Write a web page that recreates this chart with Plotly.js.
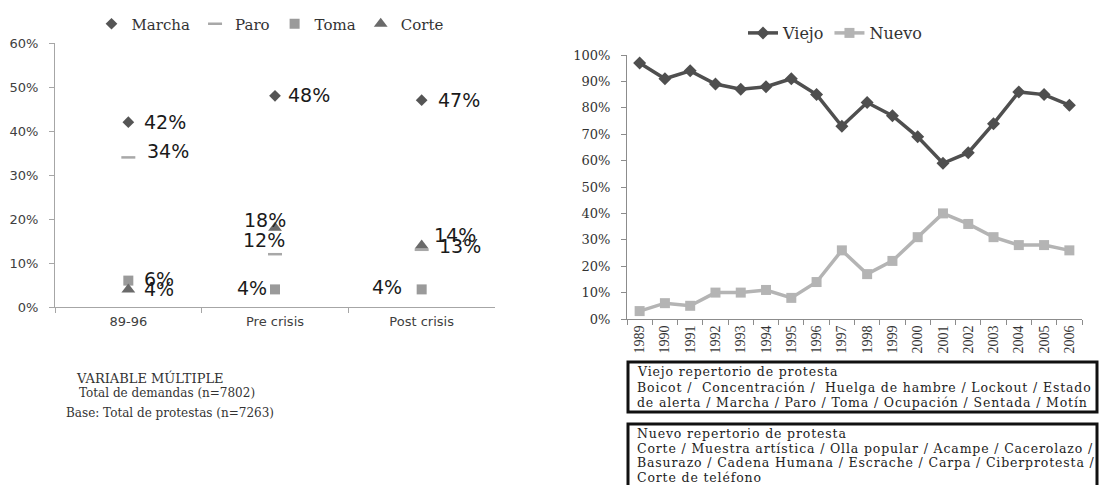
<!DOCTYPE html>
<html>
<head>
<meta charset="utf-8">
<script src="https://cdn.plot.ly/plotly-3.0.1.min.js"></script>
<style>
  html, body { margin: 0; padding: 0; background: #ffffff; }
  #chart { width: 1101px; height: 485px; }
</style>
</head>
<body>
<div id="chart"></div>
<script>
// ---------- Data: left chart (percent) ----------
const periods = ['89-96', 'Pre crisis', 'Post crisis'];
const marcha = [42, 48, 47];
const paro   = [34, 12, 13];
const toma   = [6, 4, 4];
const corte  = [4, 18, 14];
const leftSeriesNames = ['Marcha', 'Paro', 'Toma', 'Corte'];

// ---------- Data: right chart (percent) ----------
const years = ['1989','1990','1991','1992','1993','1994','1995','1996','1997',
               '1998','1999','2000','2001','2002','2003','2004','2005','2006'];
const viejo = [97, 91, 94, 89, 87, 88, 91, 85, 73, 82, 77, 69, 59, 63, 74, 86, 85, 81];
const nuevo = [3, 6, 5, 10, 10, 11, 8, 14, 26, 17, 22, 31, 40, 36, 31, 28, 28, 26];
const rightSeriesNames = ['Viejo', 'Nuevo'];

// ---------- Text ----------
const footnoteLines = ['VARIABLE MÚLTIPLE', 'Total de demandas (n=7802)', 'Base: Total de protestas (n=7263)'];
const viejoBoxLines = ['Viejo repertorio de protesta',
  'Boicot /&nbsp; Concentración /&nbsp; Huelga de hambre / Lockout / Estado',
  'de alerta / Marcha / Paro / Toma / Ocupación / Sentada / Motín'];
const nuevoBoxLines = ['Nuevo repertorio de protesta',
  'Corte / Muestra artística / Olla popular / Acampe / Cacerolazo /',
  'Basurazo / Cadena Humana / Escrache / Carpa / Ciberprotesta /',
  'Corte de teléfono'];

// ---------- Styles ----------
const W = 1101, H = 485;
const px = v => v / W;
const py = v => (H - v) / H;
const spaced = t => '<span style="letter-spacing:0.85px">' + t + '</span>';

const leftValues = [marcha, paro, toma, corte];
const leftStyles = [
  {symbol: 'diamond', size: 9, color: '#555555'},
  {symbol: 'line-ew', size: 10, color: '#a8a8a8', lw: 2.5},
  {symbol: 'square', size: 10, color: '#9a9a9a'},
  {symbol: 'triangle-up', size: 12, color: '#6a6a6a'}
];
// label placement per series per period: [xshift, yshift, xanchor]
const labelPlace = [
  [[15, 0, 'left'], [12, 1, 'left'], [15, 0, 'left']],
  [[18, 6, 'left'], [-33, 14, 'left'], [16, 4, 'left']],
  [[15, 2, 'left'], [-7, 1, 'right'], [-19, 2, 'right']],
  [[15, 0, 'left'], [-32, 8, 'left'], [11, 10, 'left']]
];

const traces = [];
leftValues.forEach((vals, s) => {
  const st = leftStyles[s];
  traces.push({
    type: 'scatter', mode: 'markers', name: leftSeriesNames[s],
    x: periods, y: vals.map(v => v / 100),
    xaxis: 'x', yaxis: 'y', legend: 'legend',
    marker: {symbol: st.symbol, size: st.size, color: st.color,
             line: st.lw ? {width: st.lw, color: st.color} : {width: 0}},
    hoverinfo: 'skip', cliponaxis: false
  });
});

traces.push({
  type: 'scatter', mode: 'lines+markers', name: rightSeriesNames[0],
  x: years, y: viejo.map(v => v / 100), xaxis: 'x2', yaxis: 'y2', legend: 'legend2',
  line: {color: '#4f4f4f', width: 3.5},
  marker: {symbol: 'diamond', size: 10, color: '#4f4f4f'},
  hoverinfo: 'skip', cliponaxis: false
});
traces.push({
  type: 'scatter', mode: 'lines+markers', name: rightSeriesNames[1],
  x: years, y: nuevo.map(v => v / 100), xaxis: 'x2', yaxis: 'y2', legend: 'legend2',
  line: {color: '#b4b4b4', width: 3.5},
  marker: {symbol: 'square', size: 10, color: '#b4b4b4'},
  hoverinfo: 'skip', cliponaxis: false
});

const annotations = [];
leftValues.forEach((vals, s) => {
  vals.forEach((v, i) => {
    const p = labelPlace[s][i];
    annotations.push({
      xref: 'x', yref: 'y', x: periods[i], y: v / 100,
      text: v + '%', showarrow: false,
      xanchor: p[2], yanchor: 'middle', xshift: p[0], yshift: p[1],
      font: {family: 'DejaVu Sans', size: 19, color: '#1a1a1a'},
      borderpad: 0
    });
  });
});

const footY = [378, 393, 413];
const footX = [75, 78, 65];
const footSize = [13, 12, 12];
footnoteLines.forEach((t, i) => {
  annotations.push({
    xref: 'paper', yref: 'paper', x: px(footX[i]), y: py(footY[i]),
    xanchor: 'left', yanchor: 'middle', showarrow: false, text: t,
    font: {family: 'DejaVu Serif', size: footSize[i], color: '#333333'}, borderpad: 0
  });
});

const vY = [372, 387, 402];
viejoBoxLines.forEach((t, i) => {
  annotations.push({
    xref: 'paper', yref: 'paper', x: px(636), y: py(vY[i]),
    xanchor: 'left', yanchor: 'middle', showarrow: false, text: spaced(t),
    font: {family: 'DejaVu Serif', size: 12.5, color: '#222222'}, borderpad: 0
  });
});
const nY = [433.5, 448, 462.5, 477];
nuevoBoxLines.forEach((t, i) => {
  annotations.push({
    xref: 'paper', yref: 'paper', x: px(636), y: py(nY[i]),
    xanchor: 'left', yanchor: 'middle', showarrow: false, text: spaced(t),
    font: {family: 'DejaVu Serif', size: 12.5, color: '#222222'}, borderpad: 0
  });
});

const shapes = [
  {type: 'rect', xref: 'paper', yref: 'paper', x0: px(628), x1: px(1097), y0: py(412), y1: py(362),
   line: {color: '#111111', width: 3}},
  {type: 'rect', xref: 'paper', yref: 'paper', x0: px(628), x1: px(1097), y0: py(495), y1: py(424),
   line: {color: '#111111', width: 3}}
];

const gray = '#a6a6a6';
const layout = {
  width: W, height: H,
  margin: {l: 0, r: 0, t: 0, b: 0},
  paper_bgcolor: '#ffffff', plot_bgcolor: '#ffffff',
  showlegend: true,
  hovermode: false,
  xaxis: {
    domain: [px(55), px(495)], anchor: 'y', type: 'category', range: [-0.5, 2.5],
    showgrid: false, zeroline: false, showline: true, linecolor: gray, linewidth: 1,
    ticks: 'outside', tickson: 'boundaries', ticklen: 5, tickcolor: gray,
    tickfont: {family: 'DejaVu Sans', size: 13, color: '#404040'}, ticklabelstandoff: 2
  },
  yaxis: {
    domain: [py(307), py(43)], anchor: 'x', range: [0, 0.6], dtick: 0.1, tickformat: '.0%',
    showgrid: false, zeroline: false, showline: true, linecolor: gray, linewidth: 1,
    ticks: 'outside', ticklen: 5, tickcolor: gray,
    tickfont: {family: 'DejaVu Sans', size: 13, color: '#404040'}, ticklabelstandoff: 8
  },
  xaxis2: {
    domain: [px(627), px(1082)], anchor: 'y2', type: 'category', range: [-0.5, 17.5],
    showgrid: false, zeroline: false, showline: true, linecolor: '#8c8c8c', linewidth: 1,
    ticks: 'outside', tickson: 'boundaries', ticklen: 5, tickcolor: '#8c8c8c',
    tickangle: -90,
    tickfont: {family: 'Liberation Serif', size: 14, color: '#333333'}, ticklabelstandoff: 0
  },
  yaxis2: {
    domain: [py(319), py(55)], anchor: 'x2', range: [0, 1], dtick: 0.1, tickformat: '.0%',
    showgrid: false, zeroline: false, showline: true, linecolor: '#8c8c8c', linewidth: 1,
    ticks: 'outside', ticklen: 5, tickcolor: '#8c8c8c',
    tickfont: {family: 'DejaVu Serif', size: 13, color: '#333333'}, ticklabelstandoff: 8
  },
  legend: {
    orientation: 'h', x: px(270), y: py(24), xanchor: 'center', yanchor: 'middle',
    font: {family: 'DejaVu Serif', size: 15, color: '#333333'},
    itemwidth: 30, bgcolor: 'rgba(0,0,0,0)', traceorder: 'normal'
  },
  legend2: {
    orientation: 'h', x: px(835), y: py(33), xanchor: 'center', yanchor: 'middle',
    font: {family: 'DejaVu Serif', size: 16, color: '#333333'},
    itemwidth: 30, bgcolor: 'rgba(0,0,0,0)', traceorder: 'normal'
  },
  annotations: annotations,
  shapes: shapes
};

Plotly.newPlot('chart', traces, layout, {displayModeBar: false, staticPlot: true});
</script>
</body>
</html>
